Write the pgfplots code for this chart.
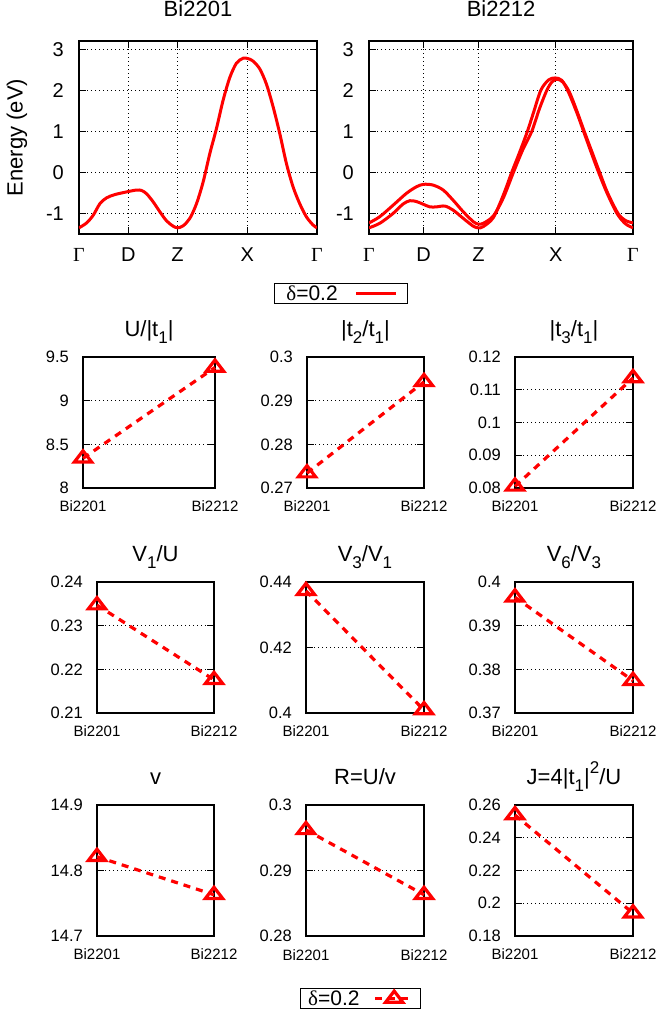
\documentclass[border=0pt]{standalone}
\usepackage{pgfplots}
\pgfplotsset{compat=1.18}
\usepackage{fontspec}
\setmainfont{Liberation Sans}
\newfontfamily\serif{Liberation Serif}
\newcommand\fs[1]{\fontsize{#1}{#1}\selectfont}
\newcommand\tsub[1]{\raisebox{-0.3em}{\fs{17}#1}}
\newcommand\tsup[1]{\raisebox{0.5em}{\fs{17}#1}}
\pgfplotsset{
  base/.style={scale only axis, anchor=north west,
    axis line style={line width=1.8pt},
    tick style={line width=1.2pt, black},
    tick align=inside, major tick length=7pt,
    grid style={black, line width=0.7pt, dash pattern=on 1pt off 3pt},
    /pgf/number format/assume math mode=true},
  small/.style={base, xmin=0, xmax=1, xtick={0,1}, xticklabels={Bi2201,Bi2212},
    height=131pt, ymajorgrids, clip=false,
    title style={font=\fs{22}, at={(0.5,1)}, anchor=base, yshift=14pt},
    x tick label style={font=\fs{15}, anchor=base, yshift=-24pt},
    y tick label style={font=\fs{16.5}, anchor=east, inner sep=0pt, xshift=-14pt}},
  big/.style={base, xmin=0, xmax=4.828, ymin=-1.5, ymax=3.2, height=193pt,
    xtick={0,1,2,3.414,4.828}, xticklabels={{\serif Γ},D,Z,X,{\serif Γ}},
    ytick={-1,0,1,2,3}, yticklabels={-1,0,1,2,3}, grid=major,
    title style={font=\fs{22}, at={(0.5,1)}, anchor=base, yshift=18pt},
    x tick label style={font=\fs{20}, anchor=base, yshift=-28pt},
    y tick label style={font=\fs{20}, anchor=east, inner sep=0pt, xshift=-15pt}},
  band/.style={red, line width=3pt, smooth},
  ser/.style={red, line width=3.2pt, dash pattern=on 7pt off 6pt,
    mark=triangle, mark size=10pt, mark options={solid, line width=3.2pt, yscale=0.75}},
}
\begin{document}
\begin{tikzpicture}
\path[use as bounding box] (0,0) rectangle (656pt,1015pt);

% ---------- top panels ----------
\begin{axis}[big, at={(79pt,974pt)}, width=238pt, title={Bi2201},
  ylabel={Energy (eV)}, ylabel style={font=\fs{22}, at={(axis description cs:-0.2605,0.5)}, anchor=center},
  legend plot pos=right,
  legend style={at={(1.101,-0.254)}, anchor=north, draw=black, line width=1pt,
    font=\fs{21}, inner xsep=10pt, inner ysep=0pt, /tikz/column sep=15pt},
  legend image code/.code={\draw[#1] (0pt,0pt) -- (40pt,0pt);}]
\addplot[band] coordinates {(0,-1.35) (0.155,-1.23) (0.29,-1.04) (0.425,-0.76) (0.56,-0.62) (0.729,-0.54) (0.986,-0.47) (1.168,-0.43) (1.269,-0.44) (1.371,-0.52) (1.506,-0.72) (1.641,-0.96) (1.776,-1.18) (1.911,-1.31) (2.0,-1.35) (2.113,-1.30) (2.248,-1.12) (2.384,-0.76) (2.519,-0.23) (2.654,0.46) (2.789,1.07) (2.924,1.76) (3.059,2.31) (3.194,2.66) (3.329,2.78) (3.43,2.77) (3.531,2.71) (3.667,2.52) (3.802,2.15) (3.937,1.60) (4.072,0.95) (4.207,0.22) (4.342,-0.35) (4.477,-0.76) (4.612,-1.08) (4.747,-1.28) (4.828,-1.35)};
\addlegendentry{{\serif δ}=0.2}
\end{axis}

\begin{axis}[big, at={(369pt,974pt)}, width=264pt, title={Bi2212}]
\addplot[band] coordinates {(0,-1.23) (0.196,-1.08) (0.44,-0.80) (0.685,-0.51) (0.868,-0.35) (1.0,-0.29) (1.174,-0.31) (1.357,-0.43) (1.54,-0.68) (1.724,-0.96) (1.907,-1.20) (2.0,-1.26) (2.09,-1.24) (2.274,-1.06) (2.457,-0.62) (2.641,0.0) (2.812,0.55) (2.977,1.0) (3.117,1.55) (3.252,2.0) (3.344,2.2) (3.435,2.27) (3.545,2.2) (3.667,1.95) (3.814,1.45) (3.936,1.0) (4.077,0.5) (4.218,0.0) (4.364,-0.5) (4.554,-1.0) (4.688,-1.17) (4.828,-1.23)};
\addplot[band] coordinates {(0,-1.35) (0.196,-1.24) (0.44,-1.00) (0.623,-0.77) (0.746,-0.69) (0.868,-0.71) (1.0,-0.78) (1.113,-0.84) (1.235,-0.84) (1.388,-0.82) (1.54,-0.92) (1.724,-1.12) (1.907,-1.31) (2.0,-1.35) (2.09,-1.32) (2.274,-1.10) (2.457,-0.55) (2.61,0.0) (2.763,0.52) (2.897,1.0) (3.007,1.45) (3.142,2.0) (3.283,2.25) (3.405,2.30) (3.527,2.24) (3.649,1.95) (3.802,1.45) (3.924,1.0) (4.059,0.5) (4.199,0.0) (4.352,-0.5) (4.535,-1.0) (4.688,-1.25) (4.828,-1.35)};
\end{axis}

% ---------- row 1 ----------
\begin{axis}[small, at={(83pt,658pt)}, width=132pt, title={U/|t\tsub{1}|},
  ymin=8, ymax=9.5, ytick={8,8.5,9,9.5}, yticklabels={8,8.5,9,9.5}]
\addplot[ser] coordinates {(0,8.34) (1,9.38)};
\end{axis}
\begin{axis}[small, at={(307pt,658pt)}, width=117pt, title={|t\tsub{2}/t\tsub{1}|},
  ymin=0.27, ymax=0.30, ytick={0.27,0.28,0.29,0.30}, yticklabels={0.27,0.28,0.29,0.3}]
\addplot[ser] coordinates {(0,0.2734) (1,0.2943)};
\end{axis}
\begin{axis}[small, at={(515pt,658pt)}, width=118pt, title={|t\tsub{3}/t\tsub{1}|},
  ymin=0.08, ymax=0.12, ytick={0.08,0.09,0.10,0.11,0.12}, yticklabels={0.08,0.09,0.1,0.11,0.12}]
\addplot[ser] coordinates {(0,0.0805) (1,0.1136)};
\end{axis}

% ---------- row 2 ----------
\begin{axis}[small, at={(97pt,433pt)}, width=117pt, title={V\tsub{1}/U},
  ymin=0.21, ymax=0.24, ytick={0.21,0.22,0.23,0.24}, yticklabels={0.21,0.22,0.23,0.24}]
\addplot[ser] coordinates {(0,0.2347) (1,0.2176)};
\end{axis}
\begin{axis}[small, at={(306pt,433pt)}, width=118pt, title={V\tsub{3}/V\tsub{1}},
  ymin=0.40, ymax=0.44, ytick={0.40,0.42,0.44}, yticklabels={0.4,0.42,0.44}]
\addplot[ser] coordinates {(0,0.4373) (1,0.4009)};
\end{axis}
\begin{axis}[small, at={(515pt,433pt)}, width=118pt, title={V\tsub{6}/V\tsub{3}},
  ymin=0.37, ymax=0.40, ytick={0.37,0.38,0.39,0.40}, yticklabels={0.37,0.38,0.39,0.4}]
\addplot[ser] coordinates {(0,0.3965) (1,0.3774)};
\end{axis}

% ---------- row 3 ----------
\begin{axis}[small, at={(97pt,210pt)}, width=117pt, title={v},
  ymin=14.7, ymax=14.9, ytick={14.7,14.8,14.9}, yticklabels={14.7,14.8,14.9}]
\addplot[ser] coordinates {(0,14.821) (1,14.763)};
\end{axis}
\begin{axis}[small, at={(306pt,210pt)}, width=118pt, title={R=U/v},
  ymin=0.28, ymax=0.30, ytick={0.28,0.29,0.30}, yticklabels={0.28,0.29,0.3},
  legend plot pos=right,
  legend style={at={(0.462,-0.397)}, anchor=north, draw=black, line width=1pt,
    font=\fs{21}, inner xsep=6pt, inner ysep=0pt, /tikz/column sep=12pt},
  legend image code/.code={\draw[mark repeat=2, mark phase=2, #1] plot coordinates {(0pt,0pt) (19pt,0pt) (38pt,0pt)};}]
\addplot[ser] coordinates {(0,0.2962) (1,0.2863)};
\addlegendentry{{\serif δ}=0.2}
\end{axis}
\begin{axis}[small, at={(515pt,210pt)}, width=118pt, title={J=4|t\tsub{1}|\tsup{2}/U},
  ymin=0.18, ymax=0.26, ytick={0.18,0.20,0.22,0.24,0.26}, yticklabels={0.18,0.2,0.22,0.24,0.26}]
\addplot[ser] coordinates {(0,0.2539) (1,0.1939)};
\end{axis}
\end{tikzpicture}
\end{document}
